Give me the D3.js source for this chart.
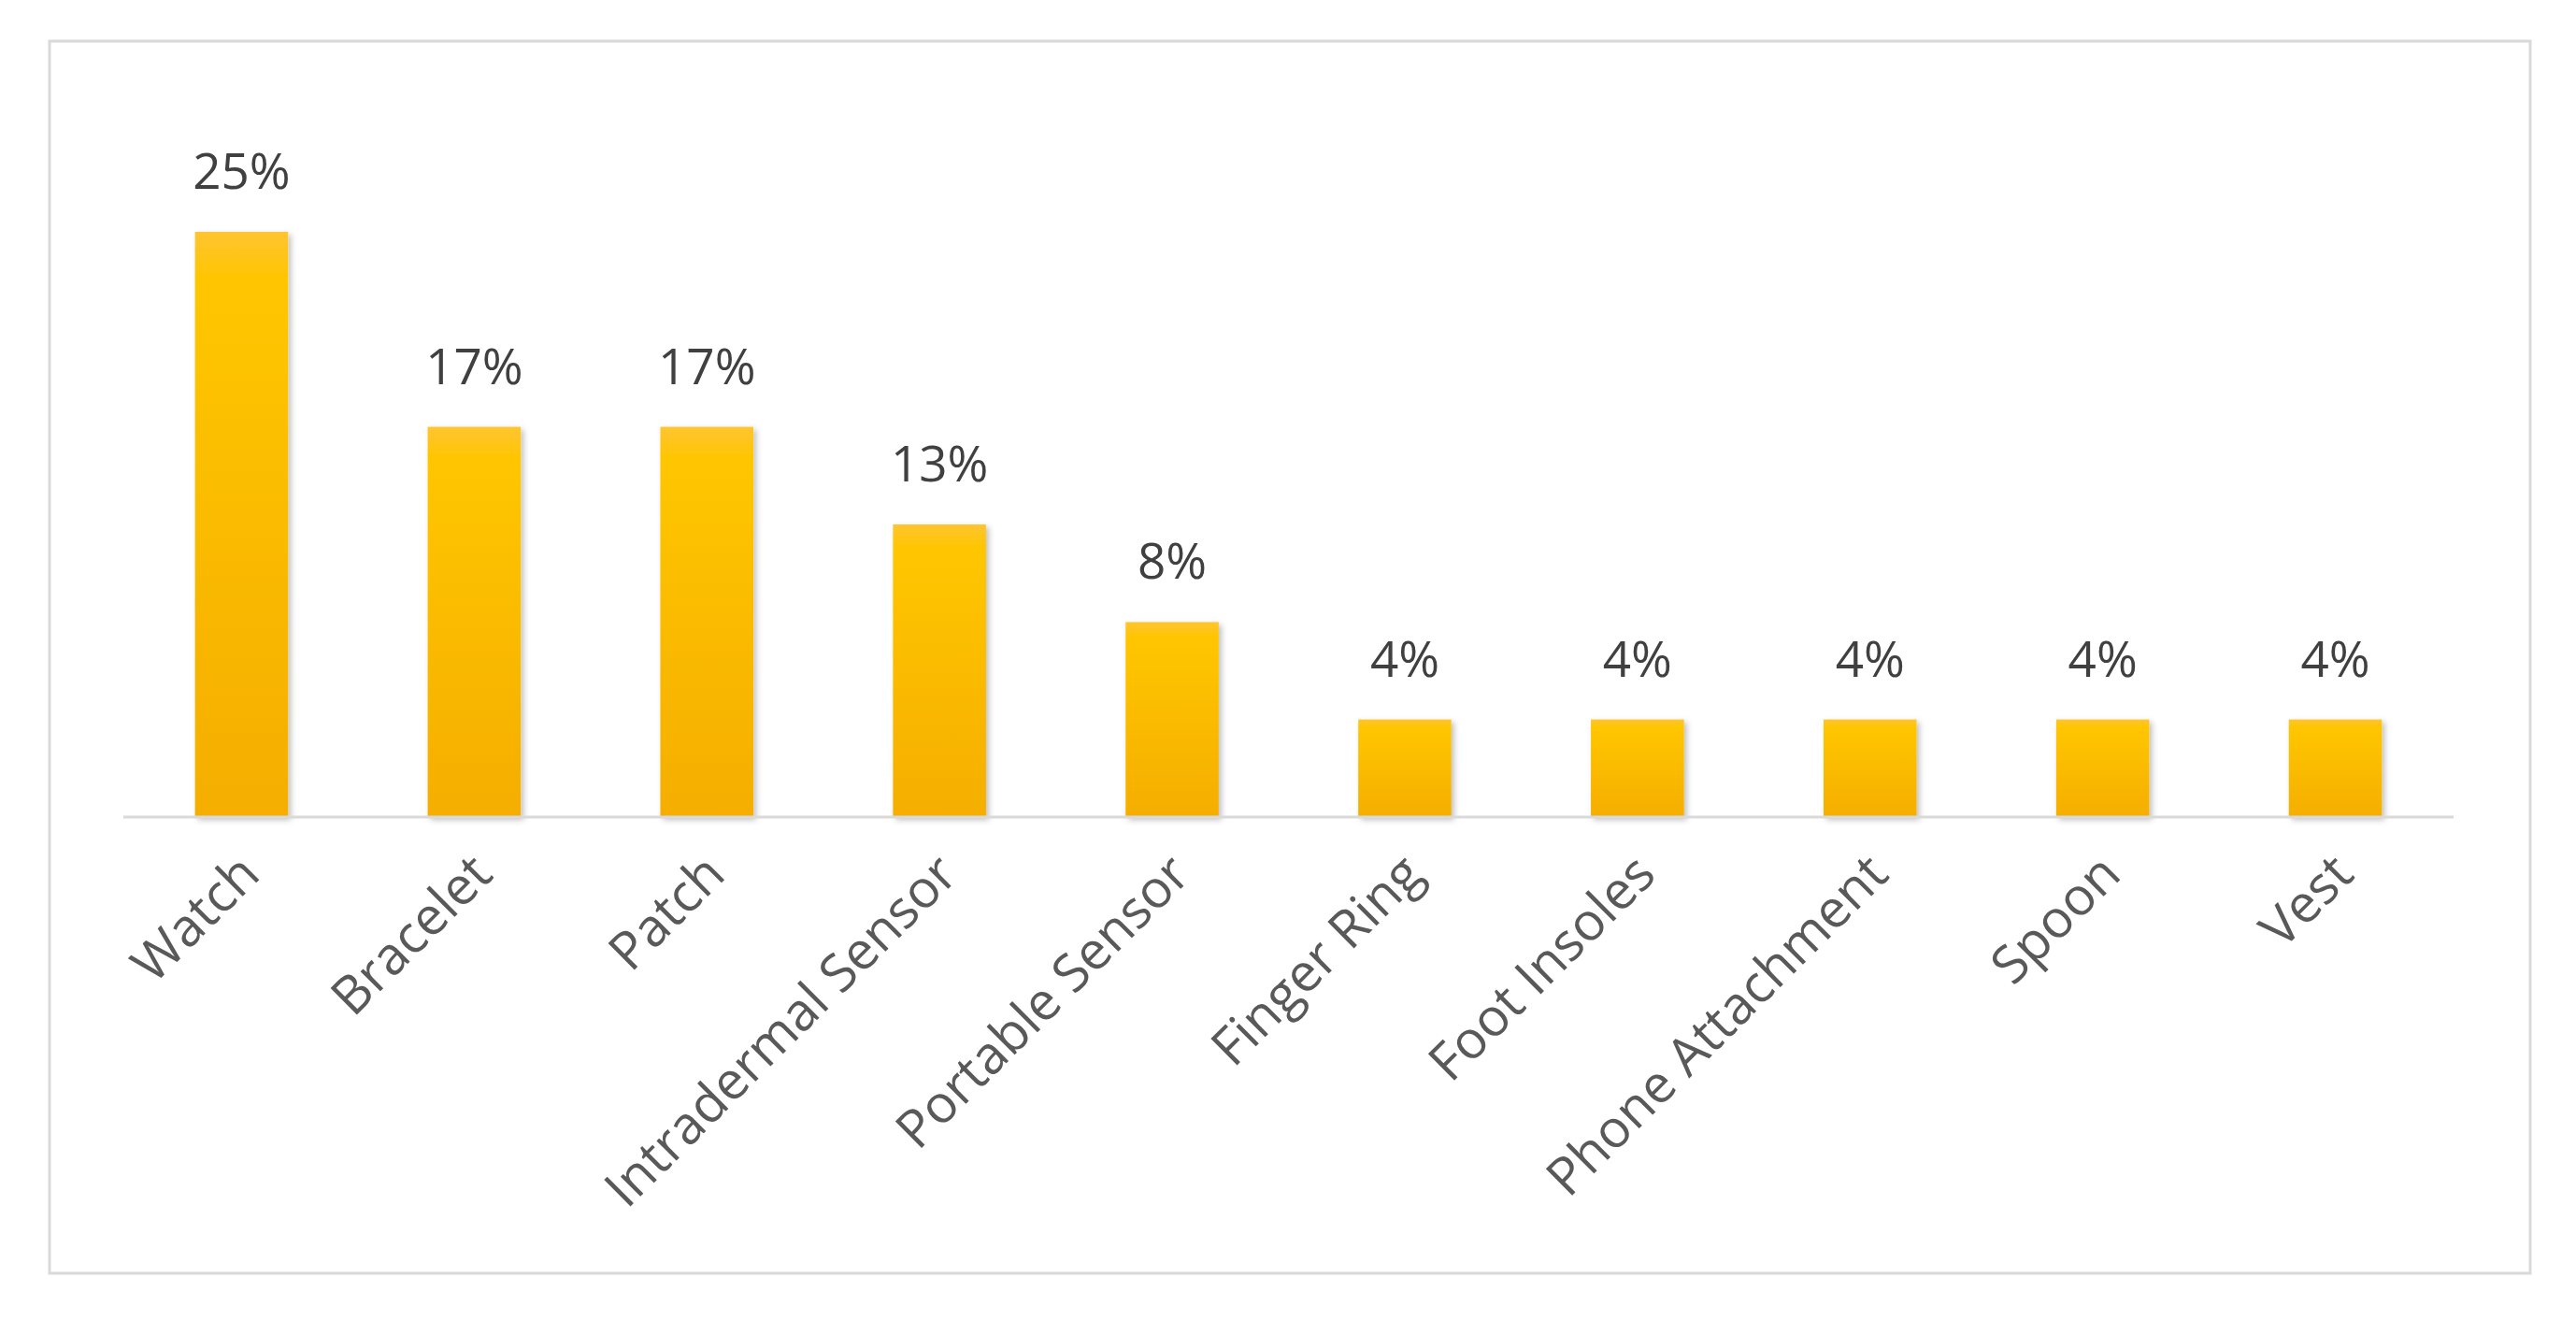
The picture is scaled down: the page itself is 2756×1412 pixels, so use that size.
<!DOCTYPE html>
<html><head><meta charset="utf-8">
<script src="https://cdn.jsdelivr.net/npm/d3@7"></script>
<style>body{margin:0;background:#fff}</style></head>
<body><svg id="c" width="2756" height="1412"></svg>
<script>
const categories=["Watch","Bracelet","Patch","Intradermal Sensor","Portable Sensor","Finger Ring","Foot Insoles","Phone Attachment","Spoon","Vest"];
const values=[25,16.67,16.67,12.5,8.33,4.17,4.17,4.17,4.17,4.17];
const labels=["25%","17%","17%","13%","8%","4%","4%","4%","4%","4%"];
const svg=d3.select("#c");
svg.append("rect").attr("x",53).attr("y",44).attr("width",2654).attr("height",1318).attr("fill","#fff").attr("stroke","#d9d9d9").attr("stroke-width",3);
const defs=svg.append("defs");
const g=defs.append("linearGradient").attr("id","gr").attr("x1",0).attr("y1",0).attr("x2",0).attr("y2",1);
g.append("stop").attr("offset","0%").attr("stop-color","#FFC431");
g.append("stop").attr("offset","8%").attr("stop-color","#FFC600");
g.append("stop").attr("offset","100%").attr("stop-color","#F5AE00");
const f=defs.append("filter").attr("id","sh").attr("x","-20%").attr("y","-20%").attr("width","140%").attr("height","140%");
f.append("feDropShadow").attr("dx",3).attr("dy",3).attr("stdDeviation",3).attr("flood-color","#000").attr("flood-opacity",0.25);
const x=d3.scaleBand().domain(categories).range([134,2623]).paddingInner(0.6).paddingOuter(0.3);
const y=d3.scaleLinear().domain([0,25]).range([874,248]);
svg.selectAll(".b").data(values).join("rect").attr("x",(d,i)=>x(categories[i])).attr("width",x.bandwidth())
 .attr("y",d=>y(d)).attr("height",d=>874-y(d)).attr("fill","url(#gr)").attr("filter","url(#sh)");
svg.append("line").attr("x1",132).attr("x2",2625).attr("y1",874).attr("y2",874).attr("stroke","#d9d9d9").attr("stroke-width",3);
svg.selectAll(".l").data(values).join("text").attr("x",(d,i)=>x(categories[i])+x.bandwidth()/2).attr("y",d=>y(d)-46)
 .attr("text-anchor","middle").attr("font-family","Open Sans, sans-serif").attr("font-size",53).attr("fill","#404040").text((d,i)=>labels[i]);
svg.selectAll(".c").data(categories).join("text")
 .attr("transform",d=>`translate(${x(d)+x.bandwidth()/2+22},${938}) rotate(-45)`)
 .attr("text-anchor","end").attr("font-family","Open Sans, sans-serif").attr("font-size",56).attr("fill","#595959").text(d=>d);
</script></body></html>
